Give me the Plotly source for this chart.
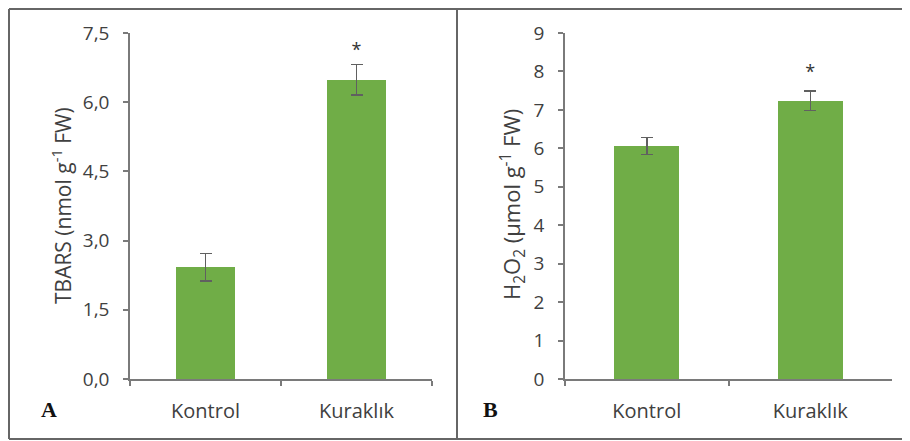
import plotly.graph_objects as go

categories = ["Kontrol", "Kuraklık"]
tbars_values = [2.42, 6.49]
tbars_errors = [0.30, 0.33]
h2o2_values = [6.06, 7.24]
h2o2_errors = [0.22, 0.25]
sig_marks = ["", "*"]
tbars_sig_y = [None, 7.1]
h2o2_sig_y = [None, 7.95]
tbars_ticks = [0, 1.5, 3.0, 4.5, 6.0, 7.5]
tbars_ticktext = ["0,0", "1,5", "3,0", "4,5", "6,0", "7,5"]
h2o2_ticks = list(range(0, 10))

W, H = 910, 441
OFF = 8  # page body margin offset
BAR = "#70AD47"
ERR = "#606060"
AX = "#7a7a7a"
TXT = "#404040"
FONT = "Open Sans"

def px(x):
    return (x - OFF) / W

def py(y):
    return (H - (y - OFF)) / H

fig = go.Figure()

fig.add_trace(go.Bar(
    x=categories, y=tbars_values, width=0.39, marker=dict(color=BAR, line=dict(width=0)),
    error_y=dict(type="data", array=tbars_errors, color=ERR, thickness=1.5, width=6),
    xaxis="x", yaxis="y", showlegend=False))
fig.add_trace(go.Scatter(
    x=categories, y=tbars_sig_y, mode="text", text=sig_marks,
    textfont=dict(size=18, color="#333", family=FONT), xaxis="x", yaxis="y", showlegend=False))

fig.add_trace(go.Bar(
    x=categories, y=h2o2_values, width=0.40, marker=dict(color=BAR, line=dict(width=0)),
    error_y=dict(type="data", array=h2o2_errors, color=ERR, thickness=1.5, width=6),
    xaxis="x2", yaxis="y2", showlegend=False))
fig.add_trace(go.Scatter(
    x=categories, y=h2o2_sig_y, mode="text", text=sig_marks,
    textfont=dict(size=18, color="#333", family=FONT), xaxis="x2", yaxis="y2", showlegend=False))

ydom = [py(379), py(33)]
xcommon = dict(type="category", range=[-0.5, 1.5], showline=True, linecolor=AX, linewidth=1.5,
               ticks="outside", tickson="boundaries", ticklen=5, tickcolor=AX, tickwidth=1.5,
               showgrid=False, zeroline=False, tickfont=dict(size=20, color=TXT, family=FONT),
               ticklabelstandoff=13, fixedrange=True, automargin=False)
ycommon = dict(showline=True, linecolor=AX, linewidth=1.5, ticks="outside", ticklen=5,
               tickcolor=AX, tickwidth=1.5, showgrid=False, zeroline=False,
               tickfont=dict(size=19, color=TXT, family=FONT), ticklabelstandoff=10,
               fixedrange=True, automargin=False)

fig.update_layout(
    width=W, height=H, margin=dict(l=0, r=0, t=0, b=0, autoexpand=False),
    paper_bgcolor="white", plot_bgcolor="white", bargap=0,
    xaxis=dict(domain=[px(130), px(432)], anchor="y", **xcommon),
    yaxis=dict(domain=ydom, anchor="x", range=[0, 7.5], tickvals=tbars_ticks,
               ticktext=tbars_ticktext, **ycommon),
    xaxis2=dict(domain=[px(565), px(892)], anchor="y2", **xcommon),
    yaxis2=dict(domain=ydom, anchor="x2", range=[0, 9], tickvals=h2o2_ticks, **ycommon),
)

fig.add_annotation(text="TBARS (nmol g<sup>-1</sup> FW)", xref="paper", yref="paper",
                   x=px(61), y=py(206), textangle=-90, showarrow=False,
                   font=dict(size=21, color=TXT, family=FONT), xanchor="center", yanchor="middle")
fig.add_annotation(text="H<sub>2</sub>O<sub>2</sub> (µmol g<sup>-1</sup> FW)", xref="paper", yref="paper",
                   x=px(512), y=py(205), textangle=-90, showarrow=False,
                   font=dict(size=22, color=TXT, family=FONT), xanchor="center", yanchor="middle")
fig.add_annotation(text="<b>A</b>", xref="paper", yref="paper", x=px(39), y=py(424),
                   showarrow=False, font=dict(size=22, color="#111", family="Liberation Serif"))
fig.add_annotation(text="<b>B</b>", xref="paper", yref="paper", x=px(490), y=py(424),
                   showarrow=False, font=dict(size=22, color="#111", family="Liberation Serif"))

border = dict(color="#666666", width=2)
fig.add_shape(type="line", xref="paper", yref="paper", x0=px(9), x1=1, y0=py(9), y1=py(9), line=border)
fig.add_shape(type="line", xref="paper", yref="paper", x0=px(9), x1=1, y0=py(439), y1=py(439), line=border)
fig.add_shape(type="line", xref="paper", yref="paper", x0=px(9), x1=px(9), y0=py(9), y1=py(439), line=border)
fig.add_shape(type="line", xref="paper", yref="paper", x0=px(457), x1=px(457), y0=py(9), y1=py(439), line=border)

fig.write_html("out.html")
